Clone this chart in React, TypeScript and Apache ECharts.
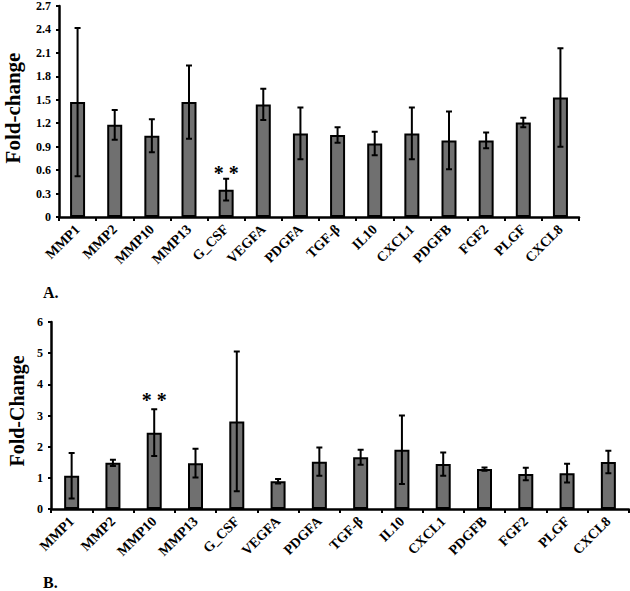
import React, { useEffect, useRef } from "react";
import * as echarts from "echarts";

const categories = ["MMP1", "MMP2", "MMP10", "MMP13", "G_CSF", "VEGFA", "PDGFA", "TGF-β", "IL10", "CXCL1", "PDGFB", "FGF2", "PLGF", "CXCL8"];

const valuesA = [1.47, 1.18, 1.04, 1.47, 0.35, 1.44, 1.07, 1.05, 0.94, 1.07, 0.98, 0.98, 1.21, 1.53];
const errorsA = [0.95, 0.19, 0.21, 0.47, 0.14, 0.2, 0.33, 0.1, 0.15, 0.33, 0.37, 0.1, 0.06, 0.63];

const valuesB = [1.07, 1.48, 2.45, 1.47, 2.81, 0.89, 1.52, 1.66, 1.9, 1.44, 1.28, 1.12, 1.15, 1.51];
const errorsB = [0.73, 0.1, 0.75, 0.46, 2.24, 0.07, 0.45, 0.24, 1.1, 0.37, 0.05, 0.2, 0.3, 0.36];

const significantA = ["G_CSF"];
const significantB = ["MMP10"];

const yTicksA = { min: 0, max: 2.7, interval: 0.3 };
const yTicksB = { min: 0, max: 6, interval: 1 };

const FONT = "Liberation Serif";

function errorData(values: number[], errors: number[]) {
  return values.map((v, i) => [i, v - errors[i], v + errors[i]]);
}

function starData(values: number[], errors: number[], sig: string[]) {
  return sig.map((c) => {
    const i = categories.indexOf(c);
    return [i, values[i] + errors[i]];
  });
}

const renderError = (params: any, api: any) => {
  const x = api.value(0);
  const lo = api.coord([x, api.value(1)]);
  const hi = api.coord([x, api.value(2)]);
  const hw = 3;
  return {
    type: "polyline",
    shape: {
      points: [
        [lo[0] - hw, lo[1]], [lo[0] + hw, lo[1]], [lo[0], lo[1]],
        [hi[0], hi[1]], [hi[0] - hw, hi[1]], [hi[0] + hw, hi[1]],
      ],
    },
    style: { stroke: "#000", lineWidth: 2, fill: "none" },
  };
};

const makeStarRenderer = (lift: number) => (params: any, api: any) => {
  const p = api.coord([api.value(0), api.value(1)]);
  return {
    type: "text",
    x: p[0],
    y: p[1] - lift,
    style: { text: "* *", align: "center", verticalAlign: "middle", fill: "#000", font: `bold 20px "${FONT}"` },
  };
};

function buildOption(
  grid: any, values: number[], errors: number[], sig: string[], ticks: any,
  title: string, titleX: number, titleY: number, titleSize: number, fmt: (v: number) => string,
  starLift: number, panel: string, panelY: number
) {
  return {
    animation: false,
    grid,
    xAxis: {
      type: "category",
      data: categories,
      axisLine: { show: true, lineStyle: { color: "#000", width: 2.5 } },
      axisTick: { show: true, length: 4, lineStyle: { color: "#000", width: 2 } },
      axisLabel: { rotate: 45, interval: 0, margin: 10, color: "#000", fontFamily: FONT, fontWeight: "bold", fontSize: 14 },
    },
    yAxis: {
      type: "value",
      min: ticks.min,
      max: ticks.max,
      interval: ticks.interval,
      axisLine: { show: true, lineStyle: { color: "#000", width: 2.5 } },
      axisTick: { show: true, length: 3, lineStyle: { color: "#000", width: 2 } },
      splitLine: { show: false },
      axisLabel: { color: "#000", fontFamily: FONT, fontWeight: "bold", fontSize: 12, margin: 8, formatter: fmt },
    },
    series: [
      { type: "bar", data: values, barWidth: 15, itemStyle: { color: "#707070", borderColor: "#000", borderWidth: 2 } },
      { type: "custom", data: errorData(values, errors), renderItem: renderError, z: 5 },
      { type: "custom", data: starData(values, errors, sig), renderItem: makeStarRenderer(starLift), z: 6 },
    ],
    graphic: [
      {
        type: "text", x: titleX, y: titleY, rotation: Math.PI / 2,
        style: { text: title, align: "center", verticalAlign: "middle", fill: "#000", font: `bold ${titleSize}px "${FONT}"` },
      },
      { type: "text", x: 43, y: panelY, style: { text: panel, fill: "#000", font: `bold 16px "${FONT}"` } },
    ],
  };
}

export default function App() {
  const refA = useRef<HTMLDivElement>(null);
  const refB = useRef<HTMLDivElement>(null);
  useEffect(() => {
    const ca = echarts.init(refA.current!, null, { renderer: "svg" });
    const cb = echarts.init(refB.current!, null, { renderer: "svg" });
    ca.setOption(
      buildOption(
        { left: 59, top: 4, width: 520, height: 213 }, valuesA, errorsA, significantA, yTicksA,
        "Fold-change", 13, 108, 21, (v: number) => (v === 0 ? "0" : v.toFixed(1)), 6, "A.", 284
      )
    );
    cb.setOption(
      buildOption(
        { left: 51, top: 22, width: 578, height: 187 }, valuesB, errorsB, significantB, yTicksB,
        "Fold-Change", 17, 111, 20, (v: number) => String(v), 9, "B.", 274
      )
    );
    return () => { ca.dispose(); cb.dispose(); };
  }, []);
  return (
    <div style={{ position: "fixed", left: 0, top: 0, width: 630, height: 591, background: "#fff" }}>
      <div ref={refA} style={{ width: 630, height: 300 }} />
      <div ref={refB} style={{ width: 630, height: 291 }} />
    </div>
  );
}
